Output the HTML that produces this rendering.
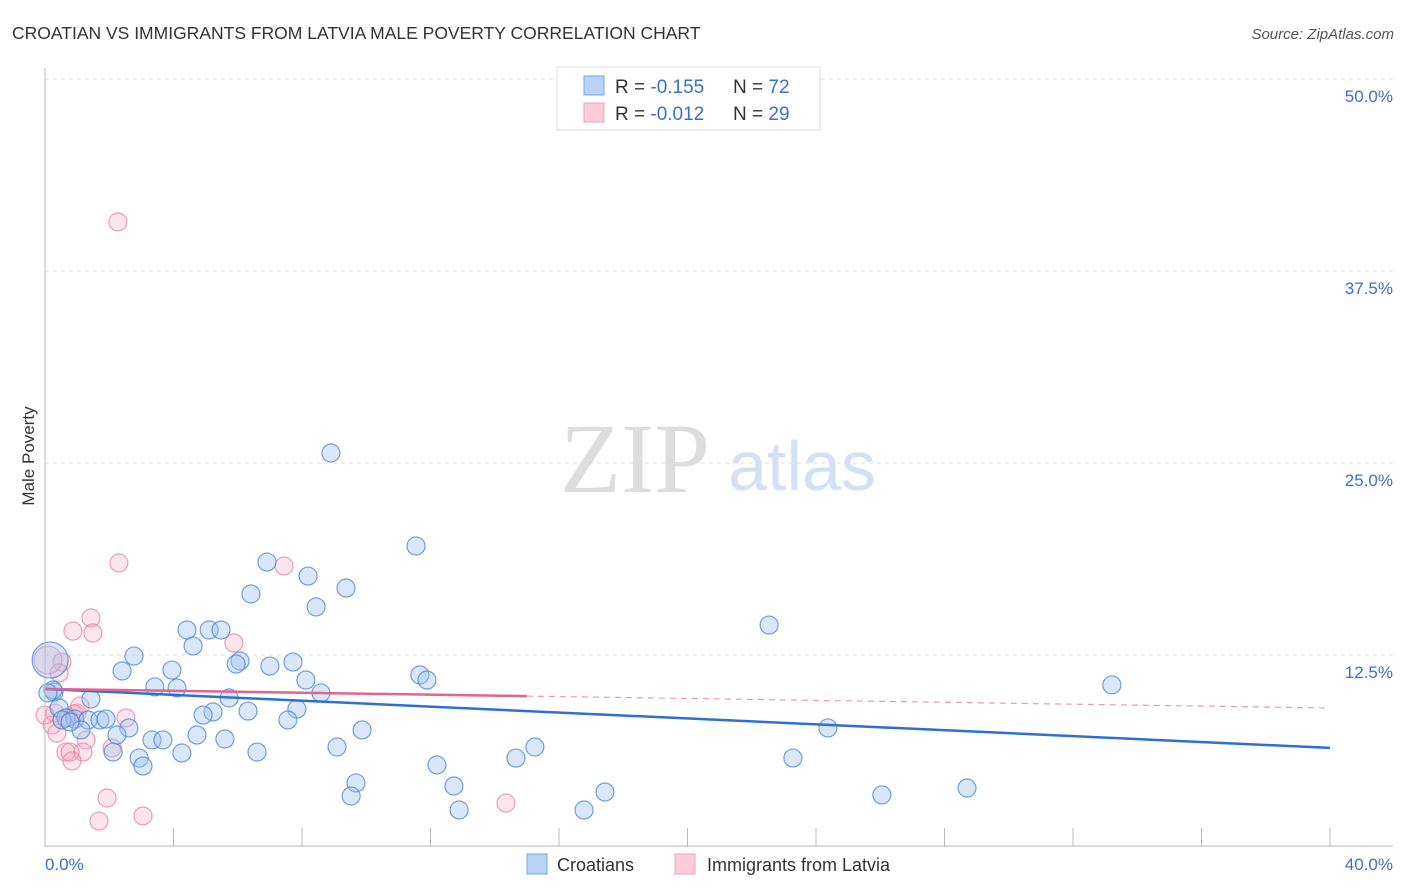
<!DOCTYPE html>
<html><head><meta charset="utf-8"><style>
body{margin:0;background:#fff;font-family:"Liberation Sans",sans-serif}
#w{position:relative;width:1406px;height:892px;overflow:hidden}
</style></head><body>
<div id="w">
<svg id="c" width="1406" height="892">
<text x="12" y="39" font-size="17.5" fill="#333">CROATIAN VS IMMIGRANTS FROM LATVIA MALE POVERTY CORRELATION CHART</text>
<text x="1394" y="39" font-size="15" fill="#555" font-style="italic" text-anchor="end">Source: ZipAtlas.com</text>
<text x="635" y="492" font-size="100" fill="#ddd" text-anchor="middle" font-family="Liberation Serif,serif">ZIP</text>
<text x="802" y="490" font-size="70" fill="#d3e1f5" text-anchor="middle">atlas</text>
<text transform="translate(34,456) rotate(-90)" font-size="17" fill="#333" text-anchor="middle">Male Poverty</text>
<g id="grid"></g><g id="pts"></g><g id="lines"></g>
<line x1="45" y1="68" x2="45" y2="847" stroke="#bbb"/>
<line x1="45" y1="846" x2="1393" y2="846" stroke="#bbb"/>
<text x="45" y="870" font-size="17" fill="#3a70cc">0.0%</text>
<text x="1393" y="870" font-size="17" fill="#3a70cc" text-anchor="end">40.0%</text>
<g>
<rect x="557" y="67" width="263" height="63" fill="#fff" stroke="#ddd"/>
<rect x="584" y="76" width="20" height="19" fill="#b8d3f5" stroke="#7aa6e6"/>
<rect x="584" y="103" width="20" height="19" fill="#fcccd8" stroke="#eea0b6"/>
<text x="615" y="93" font-size="19" fill="#333">R = <tspan fill="#3a70cc">-0.155</tspan><tspan x="733">N = </tspan><tspan fill="#3a70cc">72</tspan></text>
<text x="615" y="120" font-size="19" fill="#333">R = <tspan fill="#3a70cc">-0.012</tspan><tspan x="733">N = </tspan><tspan fill="#3a70cc">29</tspan></text>
</g>
<g>
<rect x="527" y="854" width="20" height="20" fill="#b8d3f5" stroke="#7aa6e6"/>
<text x="557" y="871" font-size="18" fill="#333">Croatians</text>
<rect x="675" y="854" width="20" height="20" fill="#fcccd8" stroke="#eea0b6"/>
<text x="707" y="871" font-size="18" fill="#333">Immigrants from Latvia</text>
</g>
</svg></div>
<script>
const yTicks=[12.5,25,37.5,50];
const yTickLabels=["12.5%","25.0%","37.5%","50.0%"];
const xTicks=[0,4,8,12,16,20,24,28,32,36,40];
const croX=[8.90,11.55,6.91,8.19,9.37,6.41,8.44,22.54,4.42,5.11,5.48,4.61,2.77,6.07,5.95,7.00,7.72,3.95,2.40,11.67,11.89,8.12,33.21,3.42,4.11,8.59,5.73,1.43,0.28,6.32,5.23,7.84,4.92,0.44,0.65,0.93,1.34,1.71,1.90,2.61,1.12,7.56,9.87,24.37,2.24,3.33,3.67,4.73,5.60,9.09,15.25,2.12,4.26,6.60,2.93,3.05,12.20,14.66,23.28,9.68,12.73,9.53,17.43,28.70,26.05,12.89,16.78,0.16,0.25,0.53,0.09,0.78];
const croY=[25.65,19.60,18.55,17.64,16.86,16.47,15.63,14.45,14.13,14.13,14.13,13.09,12.43,12.11,11.91,11.78,12.04,11.52,11.46,11.20,10.87,10.87,10.55,10.42,10.35,10.03,9.70,9.64,10.09,8.85,8.79,8.98,8.59,9.05,8.40,8.33,8.27,8.27,8.33,7.75,7.62,8.27,7.62,7.75,7.29,6.97,6.97,7.29,7.03,6.51,6.51,6.18,6.12,6.18,5.79,5.27,5.34,5.79,5.79,4.17,3.97,3.32,3.58,3.84,3.39,2.41,2.41,12.17,10.22,8.27,10.03,8.14];
const croBig=[67];
const latX=[2.27,2.30,7.44,1.43,0.87,1.49,5.88,0.53,0.44,0.09,0.31,1.00,2.52,0.72,0.22,0.37,1.28,2.09,1.18,0.65,0.78,0.84,0.90,1.93,1.68,3.05,14.35,1.09,0.0];
const latY=[40.69,18.49,18.29,14.91,14.06,13.93,13.28,12.04,11.33,12.17,8.72,8.72,8.40,8.46,7.94,7.42,6.97,6.45,6.18,6.18,6.18,5.60,8.66,3.19,1.69,2.02,2.86,9.18,8.59];
const latBig=[9];
const croLine=[10.29,6.45];
const latLine=[10.29,9.05];
const latSolidEnd=15;
const X=v=>45+v*32.125, Y=v=>847-v*15.36;
const NS="http://www.w3.org/2000/svg";
function mk(t,a,p){const e=document.createElementNS(NS,t);for(const k in a)e.setAttribute(k,a[k]);p.appendChild(e);return e;}
const g=document.getElementById('grid');
yTicks.forEach((v,i)=>{
 const l=mk('line',{x1:45,x2:1393,y1:Y(v),y2:Y(v),stroke:'#ddd','stroke-dasharray':'4 4'},g);
 
 
 const t=mk('text',{x:1393,y:Y(v)+23,'font-size':17,fill:'#3a70cc','text-anchor':'end'},g);
 t.textContent=yTickLabels[i];
 
 
});
xTicks.forEach(v=>{
 const l=mk('line',{x1:X(v),x2:X(v),y1:828,y2:847,stroke:'#bbb'},g);
 
 
});
const P=document.getElementById('pts');
latX.forEach((x,i)=>{
 const c=mk('circle',{cx:X(x),cy:Y(latY[i]),r:latBig.includes(i)?14:9,fill:'rgba(246,168,192,0.3)',stroke:'rgba(232,120,155,0.7)','stroke-width':1.2},P);
 
 
});
croX.forEach((x,i)=>{
 const c=mk('circle',{cx:X(x),cy:Y(croY[i]),r:croBig.includes(i)?18:9,fill:'rgba(160,196,240,0.4)',stroke:'rgba(70,130,215,0.75)','stroke-width':1.2},P);
 
 
});
const L=document.getElementById('lines');
const a=mk('line',{x1:X(0),y1:Y(croLine[0]),x2:X(40),y2:Y(croLine[1]),stroke:'#2d6fd6','stroke-width':2.5},L);


const ly=v=>latLine[0]+(latLine[1]-latLine[0])*v/40;
const b=mk('line',{x1:X(0),y1:Y(latLine[0]),x2:X(latSolidEnd),y2:Y(ly(latSolidEnd)),stroke:'#e2648f','stroke-width':2.5},L);


const d=mk('line',{x1:X(latSolidEnd),y1:Y(ly(latSolidEnd)),x2:X(40),y2:Y(latLine[1]),stroke:'#e89ab4','stroke-width':1.2,'stroke-dasharray':'6 5'},L);


</script>
</body></html>
